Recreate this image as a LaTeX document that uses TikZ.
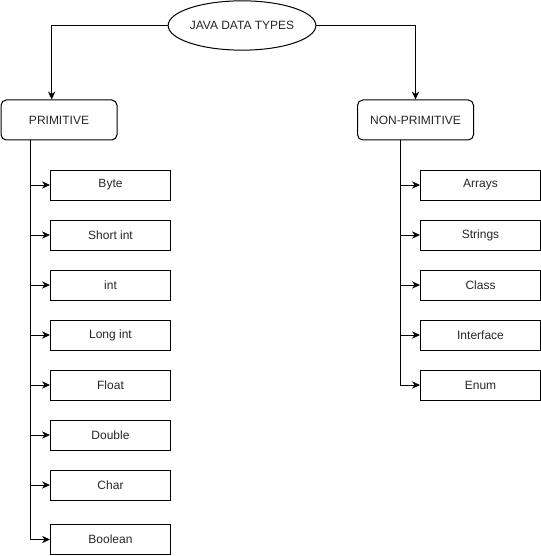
\documentclass[tikz,border=0pt]{standalone}
\usepackage{fontspec}
\setmainfont{Liberation Sans}
\usetikzlibrary{shapes.geometric,arrows.meta}
\tikzset{
  every node/.style={font=\fontsize{9pt}{11pt}\selectfont, text=black!85},
  topnode/.style={draw, ellipse, line width=0.75pt, minimum width=87pt, minimum height=37pt, inner sep=0pt},
  catbox/.style={draw, rounded corners=4pt, line width=0.75pt, minimum width=87pt, minimum height=30pt, inner sep=0pt},
  itembox/.style={draw, line width=0.75pt, minimum width=90pt, minimum height=22.5pt, inner sep=0pt},
  arr/.style={line width=0.75pt, -{Stealth[length=6pt,width=5.5pt]}},
}
\begin{document}
\begin{tikzpicture}[x=0.75pt,y=-0.75pt]
\useasboundingbox (0,0) rectangle (541,556);
\node[topnode] (top) at (242,25.5) {JAVA DATA TYPES};
\node[catbox] (prim) at (59,120) {PRIMITIVE};
\node[catbox] (nonprim) at (415.5,120) {NON-PRIMITIVE};
\draw[arr] (top.west) -| ([xshift=-5.5pt]prim.north);
\draw[arr] (top.east) -| (nonprim.north);
% primitive items
\node[itembox] (byte) at (110.5,185) {Byte};
\node[itembox] (short) at (110.5,235) {Short int};
\node[itembox] (int) at (110.5,285) {int};
\node[itembox] (long) at (110.5,335) {Long int};
\node[itembox] (float) at (110.5,385) {Float};
\node[itembox] (double) at (110.5,435) {Double};
\node[itembox] (char) at (110.5,485) {Char};
\node[itembox, minimum height=23pt] (bool) at (110.5,539.5) {Boolean};
% non-primitive items
\node[itembox] (arrays) at (480.5,185) {Arrays};
\node[itembox] (strings) at (480.5,235) {Strings};
\node[itembox] (class) at (480.5,285) {Class};
\node[itembox] (iface) at (480.5,335) {Interface};
\node[itembox] (enum) at (480.5,385) {Enum};
\coordinate (ltrunk) at (30,140);
\coordinate (rtrunk) at (400,140);
\foreach \n in {byte,short,int,long,float,double,char,bool}
  \draw[arr] (ltrunk) |- (\n.west);
\foreach \n in {arrays,strings,class,iface,enum}
  \draw[arr] (rtrunk) |- (\n.west);
\end{tikzpicture}
\end{document}
